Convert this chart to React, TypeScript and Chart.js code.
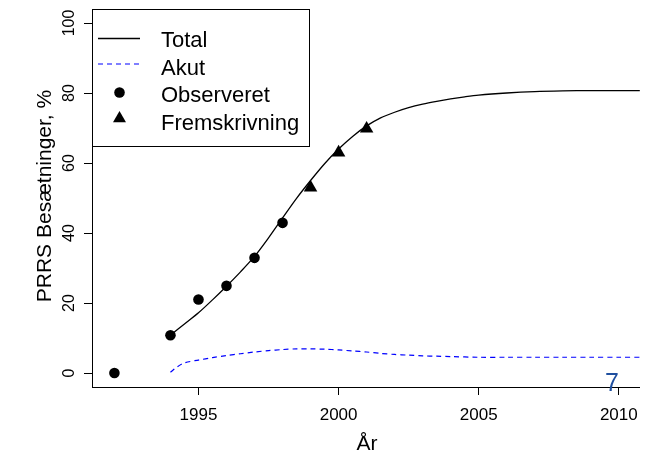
import React, { useEffect, useRef } from "react";
import { Chart, registerables } from "chart.js";

Chart.register(...registerables);

// ---- data ----
const totalYears = [1994, 1994.5, 1995, 1995.5, 1996, 1996.5, 1997, 1997.5, 1998, 1998.5, 1999, 1999.5, 2000, 2000.5, 2001, 2001.5, 2002, 2002.5, 2003, 2003.5, 2004, 2004.5, 2005, 2006, 2007, 2008, 2009, 2010, 2011];
const totalValues = [10.8, 14.0, 17.2, 20.9, 24.8, 28.9, 33.3, 38.6, 44.3, 49.9, 55.0, 59.8, 64.0, 67.6, 70.6, 72.9, 74.5, 75.8, 76.8, 77.6, 78.3, 78.9, 79.4, 80.0, 80.4, 80.6, 80.7, 80.7, 80.7];

const akutYears = [1994, 1994.25, 1994.5, 1995, 1995.5, 1996, 1996.5, 1997, 1997.5, 1998, 1998.5, 1999, 1999.5, 2000, 2000.5, 2001, 2001.5, 2002, 2002.5, 2003, 2003.5, 2004, 2005, 2006, 2007, 2008, 2009, 2010, 2011];
const akutValues = [0.2, 1.8, 2.9, 3.7, 4.4, 5.0, 5.5, 6.0, 6.4, 6.7, 6.9, 6.9, 6.8, 6.6, 6.3, 6.0, 5.6, 5.3, 5.1, 4.9, 4.8, 4.7, 4.5, 4.5, 4.5, 4.5, 4.5, 4.5, 4.5];

const obsYears = [1992, 1994, 1995, 1996, 1997, 1998];
const obsValues = [0, 10.8, 21.0, 24.9, 32.9, 42.9];

const projYears = [1999, 2000, 2001];
const projValues = [53.0, 63.0, 69.8];

const xTickValues = [1995, 2000, 2005, 2010];
const yTickValues = [0, 20, 40, 60, 80, 100];

const legendLabels = ["Total", "Akut", "Observeret", "Fremskrivning"];
const xTitle = "År";
const yTitle = "PRRS Besætninger, %";
const cornerMark = "7";

const FONT = '"Liberation Sans", Arial, Helvetica, sans-serif';

const pts = (xs: number[], ys: number[]) => xs.map((x, i) => ({ x, y: ys[i] }));

const overlayPlugin = {
  id: "overlay",
  afterDatasetsDraw(chart: any) {
    const ctx = chart.ctx;
    const yScale = chart.scales.y;
    const xScale = chart.scales.x;
    const area = chart.chartArea;
    ctx.save();
    // y tick labels (rotated)
    ctx.fillStyle = "#000";
    ctx.font = `16px ${FONT}`;
    ctx.textAlign = "center";
    ctx.textBaseline = "middle";
    yScale.ticks.forEach((t: any) => {
      const py = yScale.getPixelForValue(t.value);
      ctx.save();
      ctx.translate(area.left - 22.5, py);
      ctx.rotate(-Math.PI / 2);
      ctx.fillText(String(t.value), 0, 0);
      ctx.restore();
    });
    // y title
    ctx.font = `21px ${FONT}`;
    ctx.textBaseline = "alphabetic";
    ctx.save();
    ctx.translate(51, (area.top + area.bottom) / 2 - 2);
    ctx.rotate(-Math.PI / 2);
    ctx.fillText(yTitle, 0, 0);
    ctx.restore();
    // x title
    ctx.fillText(xTitle, (xScale.left + xScale.right) / 2 + 1, 450);

    // legend
    const lx = area.left + 0.5;
    const ly = area.top + 0.5;
    const lw = 217;
    const lh = 137;
    ctx.fillStyle = "#fff";
    ctx.fillRect(lx, ly, lw, lh);
    ctx.strokeStyle = "#000";
    ctx.lineWidth = 1;
    ctx.strokeRect(lx, ly, lw, lh);
    const ds = chart.data.datasets;
    const rowY = [38.5, 64, 92.5, 118.5];
    const baseY = [47, 74.5, 102, 129.5];
    const symX0 = 98;
    const symX1 = 140;
    const symC = 119.5;
    // Total line
    ctx.strokeStyle = ds[0].borderColor;
    ctx.lineWidth = ds[0].borderWidth;
    ctx.setLineDash([]);
    ctx.beginPath();
    ctx.moveTo(symX0, rowY[0]);
    ctx.lineTo(symX1, rowY[0]);
    ctx.stroke();
    // Akut dashed
    ctx.strokeStyle = ds[1].borderColor;
    ctx.lineWidth = ds[1].borderWidth;
    ctx.setLineDash(ds[1].borderDash);
    ctx.beginPath();
    ctx.moveTo(symX0, rowY[1]);
    ctx.lineTo(symX1, rowY[1]);
    ctx.stroke();
    ctx.setLineDash([]);
    // dot
    ctx.fillStyle = "#000";
    ctx.beginPath();
    ctx.arc(symC, rowY[2], 5.3, 0, Math.PI * 2);
    ctx.fill();
    // triangle
    const r = 7.5;
    ctx.beginPath();
    ctx.moveTo(symC, rowY[3] - r);
    ctx.lineTo(symC + r * Math.sin((2 * Math.PI) / 3), rowY[3] + r / 2);
    ctx.lineTo(symC - r * Math.sin((2 * Math.PI) / 3), rowY[3] + r / 2);
    ctx.closePath();
    ctx.fill();
    // legend text
    ctx.font = `22px ${FONT}`;
    ctx.textAlign = "left";
    ctx.textBaseline = "alphabetic";
    legendLabels.forEach((lab, i) => ctx.fillText(lab, 161, baseY[i]));
    ctx.restore();
  },
  afterDraw(chart: any) {
    const ctx = chart.ctx;
    ctx.save();
    ctx.fillStyle = "#1f4f9f";
    ctx.font = `25px ${FONT}`;
    ctx.textAlign = "left";
    ctx.textBaseline = "alphabetic";
    ctx.fillText(cornerMark, 605, 391);
    ctx.restore();
  },
};

export default function App() {
  const ref = useRef<HTMLCanvasElement | null>(null);
  useEffect(() => {
    if (!ref.current) return;
    const chart = new Chart(ref.current, {
      type: "scatter",
      data: {
        datasets: [
          {
            label: legendLabels[0],
            data: pts(totalYears, totalValues),
            showLine: true,
            borderColor: "#000",
            borderWidth: 1.3,
            pointRadius: 0,
            tension: 0.3,
            fill: false,
          },
          {
            label: legendLabels[1],
            data: pts(akutYears, akutValues),
            showLine: true,
            borderColor: "#0000ff",
            borderWidth: 1.2,
            borderDash: [5, 4],
            pointRadius: 0,
            tension: 0.3,
            fill: false,
          },
          {
            label: legendLabels[2],
            data: pts(obsYears, obsValues),
            showLine: false,
            pointStyle: "circle",
            pointRadius: 5.3,
            backgroundColor: "#000",
            borderColor: "#000",
            borderWidth: 0,
          },
          {
            label: legendLabels[3],
            data: pts(projYears, projValues),
            showLine: false,
            pointStyle: "triangle",
            pointRadius: 7.8,
            backgroundColor: "#000",
            borderColor: "#000",
            borderWidth: 0,
          },
        ],
      } as any,
      options: {
        responsive: false,
        animation: false,
        devicePixelRatio: 1,
        layout: { padding: { left: 0, top: 9, right: 7, bottom: 0 } },
        plugins: {
          legend: { display: false },
          tooltip: { enabled: false },
          title: { display: false },
        },
        scales: {
          x: {
            type: "linear",
            min: 1991.2,
            max: 2010.75,
            afterBuildTicks: (s: any) => {
              s.ticks = xTickValues.map((v) => ({ value: v }));
            },
            afterFit: (s: any) => {
              s.height = 70;
            },
            grid: {
              display: true,
              drawOnChartArea: false,
              drawTicks: true,
              tickLength: 8,
              color: "#000",
              lineWidth: 1,
            },
            border: { display: true, color: "#000", width: 1 },
            ticks: {
              color: "#000",
              font: { family: FONT, size: 17 },
              padding: 10,
              maxRotation: 0,
              autoSkip: false,
              callback: (v: any) => String(v),
            },
          },
          y: {
            type: "linear",
            min: -4,
            max: 104,
            afterBuildTicks: (s: any) => {
              s.ticks = yTickValues.map((v) => ({ value: v }));
            },
            afterFit: (s: any) => {
              s.width = 92;
            },
            grid: {
              display: true,
              drawOnChartArea: false,
              drawTicks: true,
              tickLength: 8,
              color: "#000",
              lineWidth: 1,
            },
            border: { display: true, color: "#000", width: 1 },
            ticks: {
              display: false,
              callback: (v: any) => String(v),
            },
          },
        },
      } as any,
      plugins: [overlayPlugin],
    });
    return () => chart.destroy();
  }, []);
  return (
    <canvas
      ref={ref}
      width={648}
      height={457}
      style={{ position: "fixed", left: 0, top: 0, width: 648, height: 457 }}
    />
  );
}
